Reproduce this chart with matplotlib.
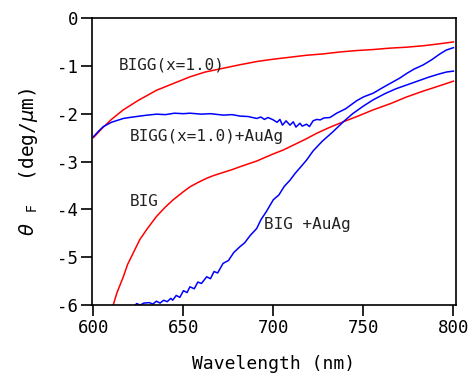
import matplotlib
matplotlib.use("Agg")
import matplotlib.pyplot as plt

# BIGG(x=1.0)  (red, upper)
bigg_x = [600, 602, 605, 610, 616.6, 625, 635.1, 645, 653.6, 662, 672.1, 681, 690.7,
          700, 709.2, 718, 727.7, 737, 746.2, 755, 764.7, 774, 783.2, 792, 800]
bigg_y = [-2.50, -2.42, -2.30, -2.12, -1.92, -1.72, -1.51, -1.36, -1.23, -1.13, -1.05, -0.98, -0.91,
          -0.86, -0.82, -0.78, -0.75, -0.71, -0.68, -0.66, -0.63, -0.61, -0.58, -0.54, -0.50]

# BIGG(x=1.0)+AuAg  (blue, upper)
bigg_au_x = [600, 600.8, 603, 605.5, 610, 616.6, 620, 625.8, 630, 635.1, 640, 645, 650, 653.6,
             660, 665, 672.1, 677, 681.4, 686, 690.7, 693, 695, 697, 699.9, 702, 703.6, 705, 707,
             709.2, 711, 712.5, 714.7, 716, 718.4, 720, 722, 724, 726, 728, 731.4, 735.1,
             740, 746.2, 750, 755.5, 760, 764.7, 770, 774, 778, 783.2, 788, 792.5, 796, 800]
bigg_au_y = [-2.48, -2.45, -2.36, -2.27, -2.18, -2.10, -2.08, -2.05, -2.03, -2.01, -2.02, -1.99, -2.00, -1.99,
             -2.01, -2.00, -2.03, -2.02, -2.05, -2.06, -2.10, -2.07, -2.12, -2.08, -2.13, -2.18, -2.12, -2.24, -2.15,
             -2.24, -2.17, -2.28, -2.20, -2.26, -2.22, -2.27, -2.15, -2.12, -2.13, -2.09, -2.08, -1.99,
             -1.90, -1.73, -1.65, -1.57, -1.47, -1.37, -1.26, -1.16, -1.07, -0.98, -0.87, -0.75, -0.67, -0.62]

# BIG  (red, lower)
big_x = [611, 613, 616.6, 619, 622, 625.8, 630, 635, 640, 644.3, 650, 653.6, 658, 662.9,
         667, 672, 677, 681.4, 686, 690.7, 695, 700, 705.4, 712, 718, 724, 731, 738.8,
         747, 755.4, 765, 774, 783, 792, 800]
big_y = [-6.00, -5.75, -5.41, -5.15, -4.92, -4.63, -4.40, -4.15, -3.95, -3.80, -3.63, -3.53, -3.44, -3.35,
         -3.29, -3.23, -3.17, -3.11, -3.05, -2.99, -2.92, -2.84, -2.76, -2.64, -2.53, -2.41, -2.29, -2.17,
         -2.05, -1.92, -1.79, -1.65, -1.53, -1.42, -1.32]

# BIG +AuAg  (blue, lower)
big_au_x = [622, 624, 626, 628, 631, 633, 635, 637, 639, 641, 643, 644, 646, 648, 650, 652, 653.6,
            656, 658, 660, 662.9, 665, 667, 669, 672, 675, 678, 681.4, 684, 687, 690.7, 693,
            696, 699.9, 703, 706, 709.2, 712, 715, 718.4, 722, 727, 733, 738.8, 744, 750,
            755.4, 762, 768, 774, 780, 786, 792, 796, 800]
big_au_y = [-6.05, -5.97, -6.00, -5.96, -5.95, -5.98, -5.92, -5.96, -5.90, -5.93, -5.86, -5.90, -5.80, -5.84,
            -5.70, -5.74, -5.62, -5.66, -5.52, -5.55, -5.41, -5.45, -5.30, -5.33, -5.13, -5.07, -4.90,
            -4.78, -4.70, -4.55, -4.40, -4.22, -4.05, -3.80, -3.70, -3.52, -3.39, -3.25, -3.12, -2.97,
            -2.78, -2.58, -2.38, -2.17, -2.00, -1.84, -1.71, -1.58, -1.48, -1.40, -1.32, -1.24, -1.17,
            -1.13, -1.11]

labels = ["BIGG(x=1.0)", "BIGG(x=1.0)+AuAg", "BIG", "BIG +AuAg"]
label_x = [614.3, 620.3, 620.3, 694.7]
label_y = [-0.98, -2.47, -3.84, -4.31]

plt.rcParams['font.family'] = ['DejaVu Sans Mono', 'DejaVu Sans']
plt.rcParams['axes.unicode_minus'] = False

fig = plt.figure(figsize=(4.72, 3.76), dpi=100)
ax = fig.add_axes([0.1949, 0.1888, 0.7712, 0.7633])

ax.plot(bigg_x, bigg_y, color='#ff0000', lw=1.1)
ax.plot(bigg_au_x, bigg_au_y, color='#0000ff', lw=1.1)
ax.plot(big_x, big_y, color='#ff0000', lw=1.1)
ax.plot(big_au_x, big_au_y, color='#0000ff', lw=1.1)

for t, x, y in zip(labels, label_x, label_y):
    ax.text(x, y, t, fontsize=11.5, va='center', ha='left', color='#222222')

ax.set_xlim(599.2, 801.4)
ax.set_ylim(-6, 0)
ax.set_xticks([600, 650, 700, 750, 800])
ax.set_yticks([0, -1, -2, -3, -4, -5, -6])
ax.tick_params(direction='out', length=8, width=1.2, labelsize=12.5, pad=2, colors='black')
for s in ax.spines.values():
    s.set_linewidth(1.2)

ax.set_xlabel("Wavelength (nm)", fontsize=13, labelpad=13)
ax.set_ylabel(r"$\theta$ $_{\rm F}$  (deg/$\mu$m)", fontsize=14, labelpad=12)

fig.savefig("out.png", dpi=100)
